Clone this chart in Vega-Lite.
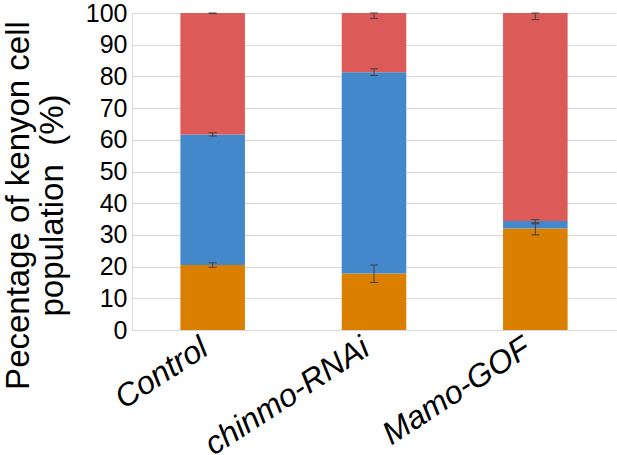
{
  "$schema": "https://vega.github.io/schema/vega-lite/v6.json",
  "width": 484,
  "height": 317,
  "autosize": {"type": "none"},
  "padding": {"left": 132, "top": 13, "right": 1, "bottom": 125},
  "config": {"view": {"stroke": null}, "font": "Liberation Sans"},
  "datasets": {
    "segments": [
      {"group": "Control", "cell": "type1", "rank": 1, "value": 20.5},
      {"group": "Control", "cell": "type2", "rank": 2, "value": 41.2},
      {"group": "Control", "cell": "type3", "rank": 3, "value": 38.3},
      {"group": "chinmo-RNAi", "cell": "type1", "rank": 1, "value": 17.8},
      {"group": "chinmo-RNAi", "cell": "type2", "rank": 2, "value": 63.5},
      {"group": "chinmo-RNAi", "cell": "type3", "rank": 3, "value": 18.7},
      {"group": "Mamo-GOF", "cell": "type1", "rank": 1, "value": 32.0},
      {"group": "Mamo-GOF", "cell": "type2", "rank": 2, "value": 2.4},
      {"group": "Mamo-GOF", "cell": "type3", "rank": 3, "value": 65.6}
    ],
    "errors": [
      {"group": "Control", "lo": 19.8, "hi": 21.2},
      {"group": "Control", "lo": 61.2, "hi": 62.2},
      {"group": "Control", "lo": 99.8, "hi": 100},
      {"group": "chinmo-RNAi", "lo": 15.0, "hi": 20.5},
      {"group": "chinmo-RNAi", "lo": 80.3, "hi": 82.4},
      {"group": "chinmo-RNAi", "lo": 98.3, "hi": 100},
      {"group": "Mamo-GOF", "lo": 30.0, "hi": 33.8},
      {"group": "Mamo-GOF", "lo": 33.5, "hi": 34.8},
      {"group": "Mamo-GOF", "lo": 97.9, "hi": 100}
    ]
  },
  "encoding": {
    "x": {
      "field": "group",
      "type": "nominal",
      "sort": ["Control", "chinmo-RNAi", "Mamo-GOF"],
      "scale": {"paddingInner": 0.6, "paddingOuter": 0.3},
      "axis": {
        "title": null,
        "ticks": false,
        "domainColor": "#d9d9d9",
        "labelAngle": -33,
        "labelAlign": "right",
        "labelBaseline": "top",
        "labelFontSize": 32,
        "labelFontStyle": "italic",
        "labelColor": "#000000",
        "labelPadding": 2,
        "labelOffset": -16,
        "labelLimit": 0,
        "labelOverlap": false
      }
    }
  },
  "layer": [
    {
      "data": {"name": "segments"},
      "mark": {"type": "bar"},
      "encoding": {
        "y": {
          "field": "value",
          "type": "quantitative",
          "stack": "zero",
          "scale": {"domain": [0, 100], "nice": false},
          "axis": {
            "title": ["Pecentage of kenyon cell", "population\u00a0\u00a0(%)"],
            "titleFontSize": 33,
            "titleFontWeight": "normal",
            "titleColor": "#000000",
            "titleLineHeight": 34,
            "titleAlign": "center",
            "titleBaseline": "top",
            "titleX": -130,
            "titleY": 192,
            "values": [0, 10, 20, 30, 40, 50, 60, 70, 80, 90, 100],
            "tickCount": 20,
            "ticks": false,
            "grid": true,
            "gridColor": "#d9d9d9",
            "domainColor": "#d9d9d9",
            "labelFontSize": 25,
            "labelColor": "#000000",
            "labelPadding": 5,
            "labelOverlap": false
          }
        },
        "color": {
          "field": "cell",
          "type": "nominal",
          "scale": {"domain": ["type1", "type2", "type3"], "range": ["#db7f00", "#4488cc", "#dc5a58"]},
          "legend": null
        },
        "order": {"field": "rank", "type": "quantitative"}
      }
    },
    {
      "data": {"name": "errors"},
      "mark": {"type": "rule", "color": "#404040", "strokeWidth": 1},
      "encoding": {
        "y": {"field": "lo", "type": "quantitative"},
        "y2": {"field": "hi"}
      }
    },
    {
      "data": {"name": "errors"},
      "mark": {"type": "tick", "orient": "horizontal", "size": 8, "thickness": 1, "color": "#404040", "opacity": 1},
      "encoding": {
        "y": {"field": "lo", "type": "quantitative"}
      }
    },
    {
      "data": {"name": "errors"},
      "mark": {"type": "tick", "orient": "horizontal", "size": 8, "thickness": 1, "color": "#404040", "opacity": 1},
      "encoding": {
        "y": {"field": "hi", "type": "quantitative"}
      }
    }
  ]
}
